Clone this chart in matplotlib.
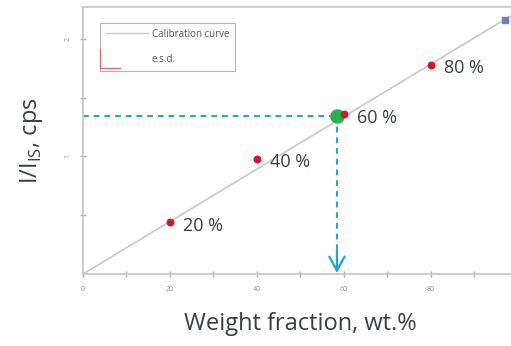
import matplotlib.pyplot as plt
from matplotlib.lines import Line2D
from matplotlib.legend_handler import HandlerBase

# standards and measured ratios
std_fraction = [20, 40, 60, 80]
std_ratio = [0.44, 0.98, 1.36, 1.78]
std_labels = ["20 %", "40 %", "60 %", "80 %"]

slope = 0.0223
curve_x = [0, 100]

unknown_x = 58.4
unknown_y = 1.34

top_x = 97
top_y = 2.16

plt.rcParams["font.family"] = ["Open Sans", "DejaVu Sans"]


class EsdHandler(HandlerBase):
    # small L-shaped error glyph sitting in the legend's lower-left corner
    def create_artists(self, legend, orig_handle, xdescent, ydescent,
                       width, height, fontsize, trans):
        pad = legend.borderpad * fontsize
        x0 = -xdescent - pad
        y0 = -ydescent - pad
        ln = Line2D([x0, x0, x0 + 14], [y0 + 14, y0, y0],
                    color="#e07070", lw=1.0, transform=trans)
        return [ln]


fig = plt.figure(figsize=(5.11, 3.46), dpi=100)
ax = fig.add_axes([0.1624, 0.208, 0.851, 0.772])

ax.plot(curve_x, [slope * x for x in curve_x], color="#c8c8c8", lw=1.2,
        zorder=1)

ax.scatter(std_fraction, std_ratio, s=22, color="#d9142a", zorder=4)
for x, y, lab in zip(std_fraction, std_ratio, std_labels):
    ax.text(x + 3, y - 0.03, lab, fontsize=13, color="#3a3f47",
            va="center", ha="left")

ax.scatter([top_x], [top_y], s=22, color="#6f7fc0", marker="s", zorder=4)

# reading the unknown off the curve
ax.plot([0, unknown_x], [unknown_y, unknown_y], ls=(0, (3, 2.5)),
        color="#1ea3d6", lw=1.4, zorder=2)
ax.plot([unknown_x, unknown_x], [unknown_y, 0.02], ls=(0, (3, 2.5)),
        color="#1ea3d6", lw=1.4, zorder=2)
ax.annotate("", xy=(unknown_x, 0.01), xytext=(unknown_x, 0.2),
            arrowprops=dict(arrowstyle="->,head_length=1.0,head_width=0.55",
                            color="#1ea3d6", lw=1.6, mutation_scale=10,
                            shrinkA=0, shrinkB=0))
ax.scatter([unknown_x], [unknown_y], s=90, color="#2ab24a", zorder=3)

ax.set_xlim(0, 100)
ax.set_ylim(0, 2.27)
ax.set_xticks([0, 20, 40, 60, 80, 100])
ax.set_xticks([10, 30, 50, 70, 90], minor=True)
ax.set_yticks([1, 2])
ax.set_yticks([0.5, 1.5], minor=True)
ax.set_xticklabels(["0", "20", "40", "60", "80", "100"])
ax.set_yticklabels(["1", "2"], rotation=90, va="center")
ax.tick_params(which="both", colors="#b0b0b0", labelsize=5,
               labelcolor="#909090", direction="inout", length=5, width=1,
               pad=6)
ax.tick_params(which="minor", length=4)

for side in ["left", "bottom", "top", "right"]:
    ax.spines[side].set_color("#c4c4c4")
    ax.spines[side].set_linewidth(1.2)

ax.set_xlabel("Weight fraction, wt.%", fontsize=17, color="#3a3f47",
              labelpad=14)
ax.set_ylabel("I/I$_{\\mathregular{IS}}$, cps", fontsize=17, color="#3a3f47",
              labelpad=14)

handles = [
    Line2D([0], [0], color="#c8c8c8", lw=1),
    Line2D([0], [0], color="#e07070"),
]
leg = ax.legend(handles, ["Calibration curve", "e.s.d."], loc="upper left",
                bbox_to_anchor=(0.04, 0.94), fontsize=7, frameon=True,
                fancybox=False, edgecolor="#a0a0a0", handlelength=4.3,
                handletextpad=0.4, labelspacing=1.5, borderpad=0.6,
                borderaxespad=0, handler_map={handles[1]: EsdHandler()})
leg.get_frame().set_linewidth(0.8)
for t in leg.get_texts():
    t.set_color("#555555")

fig.savefig("out.png", dpi=100)
